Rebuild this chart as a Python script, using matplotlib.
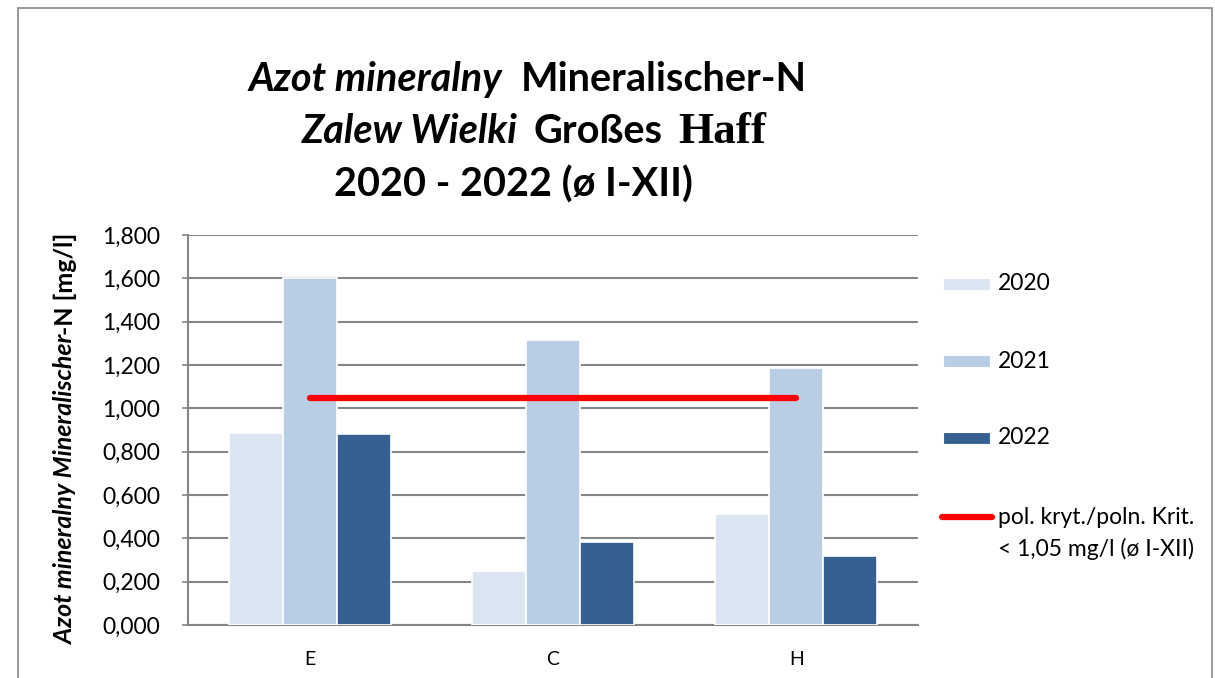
import matplotlib.pyplot as plt
import numpy as np
from matplotlib.patches import Rectangle
from matplotlib.lines import Line2D
from matplotlib.ticker import FuncFormatter, MultipleLocator

plt.rcParams['font.family'] = ['Lato', 'DejaVu Sans']

categories = ['E', 'C', 'H']
years = ['2020', '2021', '2022']
values_2020 = [0.886, 0.251, 0.512]
values_2021 = [1.601, 1.315, 1.185]
values_2022 = [0.881, 0.385, 0.318]
criterion = [1.05, 1.05, 1.05]
criterion_label = ['pol. kryt./poln. Krit.', '< 1,05 mg/l (ø I-XII)']

colors = ['#DCE6F2', '#B9CDE5', '#376092']
grid_col = '#868686'

W, H = 1215, 678
fig = plt.figure(figsize=(W / 100, H / 100), dpi=100)

# outer chart border (bottom edge cut off like the screenshot)
fig.patches.append(Rectangle((18 / W, -0.1), (1212 - 18) / W, 1.1 - 8 / H,
                             transform=fig.transFigure, fill=False,
                             edgecolor=grid_col, linewidth=1.2))

ax = fig.add_axes([188 / W, 1 - 625 / H, (918 - 188) / W, (625 - 235) / H])

x = np.arange(len(categories))
bw = 0.222
for i, vals in enumerate([values_2020, values_2021, values_2022]):
    ax.bar(x + (i - 1) * bw, vals, bw, color=colors[i], edgecolor='white',
           linewidth=1.2, zorder=3)
ax.plot(x, criterion, color='#FF0000', linewidth=4.5, solid_capstyle='round', zorder=4)

ax.set_xlim(-0.5, 2.5)
ax.set_ylim(0, 1.8)
ax.yaxis.set_major_locator(MultipleLocator(0.2))
ax.yaxis.set_major_formatter(FuncFormatter(lambda v, p: f'{v:.3f}'.replace('.', ',')))
ax.set_xticks(x)
ax.set_xticklabels(categories)
ax.grid(axis='y', color=grid_col, linewidth=1.5, zorder=0)
for s in ['top', 'right']:
    ax.spines[s].set_visible(False)
for s in ['left', 'bottom']:
    ax.spines[s].set_color(grid_col)
    ax.spines[s].set_linewidth(1.5)
ax.tick_params(axis='y', labelsize=16.5, length=4, color=grid_col, width=1.2, pad=16)
ax.tick_params(axis='x', labelsize=14, length=0, pad=19)

# legend, laid out like the Excel one (line handle next to first text line)
leg_fs = 16.5
step = 77
for i, yr in enumerate(years):
    yc = 284 + i * step
    fig.patches.append(Rectangle((943 / W, 1 - (yc + 6) / H), 47 / W, 12 / H,
                                 transform=fig.transFigure, facecolor=colors[i],
                                 edgecolor='white', linewidth=0.8))
    fig.text(998 / W, 1 - yc / H, yr, fontsize=leg_fs, va='center', ha='left')
yc = 284 + 3 * step + 2
fig.lines.append(Line2D([942 / W, 992 / W], [1 - yc / H] * 2, transform=fig.transFigure,
                        color='#FF0000', linewidth=4.5, solid_capstyle='round'))
for j, line in enumerate(criterion_label):
    fig.text(998 / W, 1 - (yc + j * 32) / H, line, fontsize=leg_fs, va='center', ha='left')

# title built from pieces with mixed styles
fig.canvas.draw()
r = fig.canvas.get_renderer()


def draw_line(parts, y, xc, gap=14):
    texts = [fig.text(0, 1 - y / H, s, ha='left', va='baseline', **kw) for s, kw in parts]
    fig.canvas.draw()
    widths = [t.get_window_extent(r).width for t in texts]
    total = sum(widths) + gap * (len(parts) - 1)
    xp = xc - total / 2
    for t, w in zip(texts, widths):
        t.set_x(xp / W)
        xp += w + gap


tfs = 28.5
bi = dict(fontsize=tfs, fontweight='bold', fontstyle='italic')
b = dict(fontsize=tfs, fontweight='bold')
serif = dict(fontsize=tfs + 4, fontweight='bold', family='Liberation Serif')
draw_line([('Azot mineralny', bi), ('Mineralischer-N', b)], 91, 528, gap=18)
draw_line([('Zalew Wielki', bi), ('Großes', b), ('Haff', serif)], 143, 534, gap=16)
draw_line([('2020 - 2022 (ø I-XII)', b)], 197, 513)

# rotated y label, two styles, scaled to the reference length
parts = [('Azot mineralny Mineralischer', dict(fontstyle='italic')), ('-N [mg/l]', {})]
yl = [fig.text(73 / W, 0.5, s, rotation=90, rotation_mode='anchor', ha='left',
               va='baseline', fontsize=15, fontweight='bold', **kw) for s, kw in parts]
fig.canvas.draw()
total = sum(t.get_window_extent(r).height for t in yl)
for t in yl:
    t.set_fontsize(15 * 412 / total)
fig.canvas.draw()
hs = [t.get_window_extent(r).height for t in yl]
yp = 438 + sum(hs) / 2
for t, h in zip(yl, hs):
    t.set_y(1 - yp / H)
    yp -= h

fig.savefig('out.png', dpi=100)
